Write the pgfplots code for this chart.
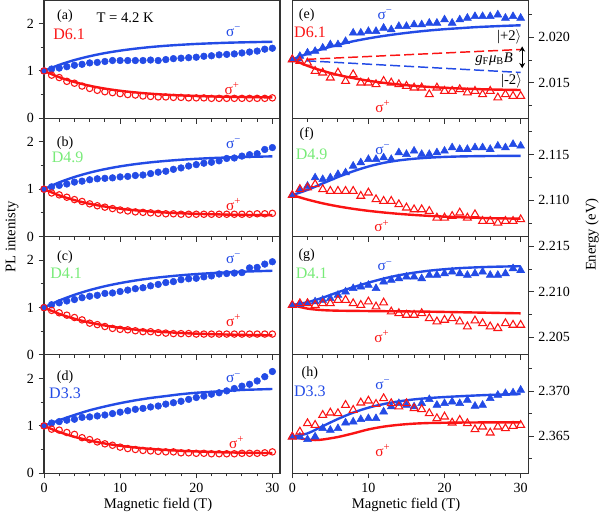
\documentclass[border=0pt]{standalone}
\usepackage{fontspec}
\setmainfont{Liberation Serif}
\usepackage{pgfplots}
\pgfplotsset{compat=1.18}
\usetikzlibrary{arrows.meta}
\definecolor{myblue}{RGB}{35,75,230}
\definecolor{myred}{RGB}{250,20,20}
\definecolor{mygreen}{RGB}{120,235,120}
\newcommand{\sigm}{σ\textsuperscript{−}}
\newcommand{\sigp}{σ\textsuperscript{+}}
\newcommand{\fs}[1]{\fontsize{#1}{#1}\selectfont}
\pgfplotsset{
  base/.style={scale only axis, width=177pt, height=88.65pt, xmin=0, xmax=31,
    xtick={0,10,20,30}, minor x tick num=4, tick align=outside, xtick pos=left,
    major tick length=4pt, minor tick length=2.5pt,
    axis line style={black!80, line width=0.8pt},
    every tick/.append style={black!80, line width=0.7pt},
    tick label style={font=\fs{10.5}},
    /pgf/number format/assume math mode=true,
    clip=false, xticklabels={}, anchor=north west},
  leftp/.style={base, ymin=0, ymax=2.5, ytick={0,1,2}, minor ytick={0.5,1.5}, ytick pos=left},
  rightp/.style={base, ytick pos=right, yticklabel pos=right,
    yticklabel style={/pgf/number format/.cd, fixed, fixed zerofill, precision=3}},
  bdot/.style={only marks, mark=*, mark size=2.5pt, color=myblue},
  rdot/.style={only marks, mark=o, mark size=2.4pt, color=myred, mark options={line width=0.8pt}},
  btri/.style={only marks, mark=triangle*, mark size=3.4pt, color=myblue},
  rtri/.style={only marks, mark=triangle, mark size=3.4pt, color=myred, mark options={line width=0.8pt}},
  bline/.style={myblue, line width=1.8pt, smooth, no marks},
  rline/.style={myred, line width=1.8pt, smooth, no marks},
}
\begin{document}
\begin{tikzpicture}
\useasboundingbox (0,0) rectangle (451.5pt,-386.25pt);
% ---------- (a)
\begin{axis}[leftp, at={(33pt,0pt)}]
\addplot[bdot] coordinates {(0,1.00)(1,1.04)(2,1.06)(3,1.09)(4,1.12)(5,1.14)(6,1.17)(7,1.18)(8,1.20)(9,1.22)(10,1.22)(11,1.22)(12,1.22)(13,1.22)(14,1.23)(15,1.22)(16,1.24)(17,1.26)(18,1.27)(19,1.28)(20,1.29)(21,1.31)(22,1.32)(23,1.34)(24,1.35)(25,1.36)(26,1.38)(27,1.40)(28,1.42)(29,1.46)(30,1.48)};
\addplot[rdot] coordinates {(0,1.00)(1,0.91)(2,0.86)(3,0.78)(4,0.74)(5,0.68)(6,0.63)(7,0.59)(8,0.56)(9,0.54)(10,0.52)(11,0.50)(12,0.49)(13,0.47)(14,0.46)(15,0.45)(16,0.45)(17,0.44)(18,0.44)(19,0.43)(20,0.43)(21,0.43)(22,0.42)(23,0.42)(24,0.42)(25,0.42)(26,0.42)(27,0.42)(28,0.42)(29,0.42)(30,0.43)};
\addplot[bline] coordinates {(0,1)(2,1.128)(4,1.230)(6,1.311)(8,1.377)(10,1.429)(12,1.471)(14,1.505)(16,1.532)(18,1.553)(20,1.571)(22,1.584)(24,1.596)(26,1.604)(28,1.611)(30,1.617)};
\addplot[rline] coordinates {(0,1)(2,0.867)(4,0.765)(6,0.686)(8,0.626)(10,0.580)(12,0.545)(14,0.518)(16,0.497)(18,0.482)(20,0.469)(22,0.460)(24,0.453)(26,0.448)(28,0.444)(30,0.440)};
\node[font=\fs{10.5}] at (axis cs:2.76,2.15) {(a)};
\node[font=\fs{11}] at (axis cs:10.66,2.13) {T = 4.2 K};
\node[font=\fs{12}, text=myred] at (axis cs:3.3,1.77) {D6.1};
\node[font=\fs{11.5}, text=myblue] at (axis cs:24.9,1.83) {\sigm};
\node[font=\fs{11.5}, text=myred] at (axis cs:24.7,0.62) {\sigp};
\end{axis}
% ---------- (b)
\begin{axis}[leftp, at={(33pt,-88.7pt)}]
\addplot[bdot] coordinates {(0,1.00)(1,1.05)(2,1.08)(3,1.11)(4,1.15)(5,1.17)(6,1.20)(7,1.22)(8,1.23)(9,1.24)(10,1.26)(11,1.27)(12,1.29)(13,1.30)(14,1.33)(15,1.36)(16,1.38)(17,1.42)(18,1.45)(19,1.49)(20,1.52)(21,1.55)(22,1.57)(23,1.60)(24,1.65)(25,1.66)(26,1.70)(27,1.73)(28,1.75)(29,1.84)(30,1.88)};
\addplot[rdot] coordinates {(0,1.00)(1,0.92)(2,0.88)(3,0.83)(4,0.78)(5,0.74)(6,0.69)(7,0.65)(8,0.62)(9,0.59)(10,0.56)(11,0.54)(12,0.52)(13,0.51)(14,0.50)(15,0.49)(16,0.48)(17,0.48)(18,0.47)(19,0.47)(20,0.47)(21,0.47)(22,0.47)(23,0.47)(24,0.47)(25,0.47)(26,0.47)(27,0.47)(28,0.48)(29,0.48)(30,0.49)};
\addplot[bline] coordinates {(0,1)(2,1.144)(4,1.258)(6,1.350)(8,1.424)(10,1.483)(12,1.530)(14,1.568)(16,1.598)(18,1.623)(20,1.642)(22,1.658)(24,1.670)(26,1.680)(28,1.688)(30,1.694)};
\addplot[rline] coordinates {(0,1)(2,0.869)(4,0.769)(6,0.691)(8,0.633)(10,0.588)(12,0.553)(14,0.527)(16,0.506)(18,0.491)(20,0.479)(22,0.470)(24,0.463)(26,0.457)(28,0.453)(30,0.450)};
\node[font=\fs{10.5}] at (axis cs:2.76,1.98) {(b)};
\node[font=\fs{12}, text=mygreen] at (axis cs:3.1,1.67) {D4.9};
\node[font=\fs{11.5}, text=myblue] at (axis cs:24.9,1.96) {\sigm};
\node[font=\fs{11.5}, text=myred] at (axis cs:24.9,0.68) {\sigp};
\end{axis}
% ---------- (c)
\begin{axis}[leftp, at={(33pt,-177.5pt)}]
\addplot[bdot] coordinates {(0,1.00)(1,1.06)(2,1.10)(3,1.14)(4,1.17)(5,1.21)(6,1.24)(7,1.26)(8,1.30)(9,1.31)(10,1.34)(11,1.37)(12,1.40)(13,1.42)(14,1.46)(15,1.49)(16,1.53)(17,1.55)(18,1.59)(19,1.61)(20,1.62)(21,1.65)(22,1.67)(23,1.71)(24,1.72)(25,1.73)(26,1.74)(27,1.84)(28,1.85)(29,1.92)(30,1.97)};
\addplot[rdot] coordinates {(0,1.00)(1,0.94)(2,0.89)(3,0.84)(4,0.79)(5,0.74)(6,0.67)(7,0.64)(8,0.60)(9,0.56)(10,0.54)(11,0.53)(12,0.51)(13,0.49)(14,0.49)(15,0.47)(16,0.46)(17,0.45)(18,0.45)(19,0.45)(20,0.44)(21,0.44)(22,0.44)(23,0.44)(24,0.44)(25,0.44)(26,0.44)(27,0.44)(28,0.44)(29,0.44)(30,0.44)};
\addplot[bline] coordinates {(0,1)(2,1.149)(4,1.270)(6,1.370)(8,1.452)(10,1.518)(12,1.573)(14,1.618)(16,1.654)(18,1.684)(20,1.709)(22,1.729)(24,1.746)(26,1.759)(28,1.770)(30,1.779)};
\addplot[rline] coordinates {(0,1)(2,0.867)(4,0.764)(6,0.683)(8,0.621)(10,0.572)(12,0.534)(14,0.504)(16,0.481)(18,0.463)(20,0.449)(22,0.438)(24,0.430)(26,0.423)(28,0.418)(30,0.414)};
\node[font=\fs{10.5}] at (axis cs:2.76,2.07) {(c)};
\node[font=\fs{12}, text=mygreen] at (axis cs:2.9,1.72) {D4.1};
\node[font=\fs{11.5}, text=myblue] at (axis cs:24.9,2.03) {\sigm};
\node[font=\fs{11.5}, text=myred] at (axis cs:24.9,0.72) {\sigp};
\end{axis}
% ---------- (d)
\begin{axis}[leftp, at={(33pt,-266.2pt)}, xticklabels={0,10,20,30}]
\addplot[bdot] coordinates {(0,1.00)(1,1.06)(2,1.09)(3,1.12)(4,1.14)(5,1.18)(6,1.19)(7,1.21)(8,1.23)(9,1.26)(10,1.29)(11,1.32)(12,1.35)(13,1.37)(14,1.40)(15,1.42)(16,1.46)(17,1.49)(18,1.52)(19,1.56)(20,1.60)(21,1.63)(22,1.67)(23,1.70)(24,1.74)(25,1.79)(26,1.84)(27,1.88)(28,1.95)(29,2.04)(30,2.15)};
\addplot[rdot] coordinates {(0,1.00)(1,0.93)(2,0.91)(3,0.86)(4,0.82)(5,0.75)(6,0.71)(7,0.66)(8,0.62)(9,0.59)(10,0.55)(11,0.52)(12,0.50)(13,0.48)(14,0.47)(15,0.46)(16,0.45)(17,0.45)(18,0.43)(19,0.43)(20,0.42)(21,0.42)(22,0.41)(23,0.41)(24,0.41)(25,0.41)(26,0.42)(27,0.42)(28,0.42)(29,0.43)(30,0.45)};
\addplot[bline] coordinates {(0,1)(2,1.12)(4,1.23)(6,1.33)(8,1.41)(10,1.48)(12,1.54)(14,1.59)(16,1.63)(18,1.67)(20,1.70)(22,1.72)(24,1.74)(26,1.76)(28,1.77)(30,1.78)};
\addplot[rline] coordinates {(0,1)(2,0.870)(4,0.768)(6,0.689)(8,0.627)(10,0.579)(12,0.542)(14,0.513)(16,0.490)(18,0.472)(20,0.458)(22,0.448)(24,0.439)(26,0.433)(28,0.428)(30,0.424)};
\node[font=\fs{10.5}] at (axis cs:2.76,2.03) {(d)};
\node[font=\fs{12}, text=myblue] at (axis cs:2.76,1.69) {D3.3};
\node[font=\fs{11.5}, text=myblue] at (axis cs:24.9,2.01) {\sigm};
\node[font=\fs{11.5}, text=myred] at (axis cs:25.3,0.64) {\sigp};
\end{axis}
% ---------- (e)
\begin{axis}[rightp, at={(219.2pt,0pt)}, ymin=2.0111, ymax=2.0241, ytick={2.015,2.020}, minor ytick={2.0125,2.0175,2.0225}]
\addplot[btri] coordinates {(0,2.01756)(1,2.01792)(2,2.01829)(3,2.01847)(4,2.01883)(5,2.0192)(6,2.0192)(7,2.01956)(8,2.02048)(9,2.02048)(10,2.02066)(11,2.02066)(12,2.02102)(13,2.02084)(14,2.02121)(15,2.02121)(16,2.02139)(17,2.02139)(18,2.02157)(19,2.02157)(20,2.02194)(21,2.02157)(22,2.02194)(23,2.02212)(24,2.0223)(25,2.0223)(26,2.0223)(27,2.02248)(28,2.02212)(29,2.0223)(30,2.02212)};
\addplot[rtri] coordinates {(0,2.01756)(1,2.01737)(2,2.01719)(3,2.01628)(4,2.0161)(5,2.01555)(6,2.0161)(7,2.01518)(8,2.01591)(9,2.015)(10,2.015)(11,2.01482)(12,2.01518)(13,2.015)(14,2.01482)(15,2.01464)(16,2.01445)(17,2.01445)(18,2.01372)(19,2.01445)(20,2.01409)(21,2.01409)(22,2.01427)(23,2.01391)(24,2.01409)(25,2.01372)(26,2.01409)(27,2.01336)(28,2.01372)(29,2.01354)(30,2.01354)};
\addplot[bline] coordinates {(0,2.01756)(2,2.01819)(4,2.01872)(6,2.01917)(8,2.01956)(10,2.01988)(12,2.02015)(14,2.02038)(16,2.02058)(18,2.02075)(20,2.02089)(22,2.02100)(24,2.02111)(26,2.02119)(28,2.02126)(30,2.02132)};
\addplot[rline] coordinates {(0,2.01756)(2,2.01686)(4,2.01631)(6,2.01586)(8,2.01551)(10,2.01522)(12,2.01499)(14,2.01481)(16,2.01466)(18,2.01454)(20,2.01445)(22,2.01437)(24,2.01431)(26,2.01426)(28,2.01423)(30,2.01420)};
\addplot[myred, line width=1.1pt, dash pattern=on 7.5pt off 3pt] coordinates {(0,2.0175)(30,2.01866)};
\addplot[myblue, line width=1.1pt, dash pattern=on 7.5pt off 3pt] coordinates {(0,2.0175)(30,2.01613)};
\draw[{Stealth[length=4pt,width=4.5pt]}-{Stealth[length=4pt,width=4.5pt]}, line width=1pt] (axis cs:30.2,2.0190) -- (axis cs:30.2,2.0166);
\node[font=\fs{10.5}] at (axis cs:1.9,2.02248) {(e)};
\node[font=\fs{12}, text=myred] at (axis cs:2.33,2.02051) {D6.1};
\node[font=\fs{11.5}, text=myblue] at (axis cs:12.2,2.02248) {\sigm};
\node[font=\fs{11.5}, text=myred] at (axis cs:11.9,2.01241) {\sigp};
\node[font=\fs{11}] at (axis cs:28.5,2.0201) {|+2$\rangle$};
\node[font=\fs{11}, anchor=east] at (axis cs:29.6,2.01755) {\textit{g}\textsubscript{F}\textit{μ}\textsubscript{B}\textit{B}};
\node[font=\fs{11}] at (axis cs:28.8,2.01517) {|-2$\rangle$};
\end{axis}
% ---------- (f)
\begin{axis}[rightp, at={(219.2pt,-88.7pt)}, ymin=2.10606, ymax=2.11897, ytick={2.110,2.115}, minor ytick={2.1075,2.1125,2.1175}]
\addplot[btri] coordinates {(0,2.11058)(1,2.11121)(2,2.11157)(3,2.11248)(4,2.1123)(5,2.11248)(6,2.11285)(7,2.11303)(8,2.11376)(9,2.11413)(10,2.11449)(11,2.11449)(12,2.11467)(13,2.11449)(14,2.11522)(15,2.11504)(16,2.1154)(17,2.11504)(18,2.11504)(19,2.11522)(20,2.1154)(21,2.11577)(22,2.11559)(23,2.11559)(24,2.11577)(25,2.11577)(26,2.11559)(27,2.11595)(28,2.11577)(29,2.11613)(30,2.11595)};
\addplot[rtri] coordinates {(0,2.11058)(1,2.11121)(2,2.11139)(3,2.11175)(4,2.11121)(5,2.11102)(6,2.11102)(7,2.11102)(8,2.11102)(9,2.11048)(10,2.11084)(11,2.11011)(12,2.10993)(13,2.10993)(14,2.10956)(15,2.1092)(16,2.10901)(17,2.10901)(18,2.10883)(19,2.1081)(20,2.1081)(21,2.10828)(22,2.10865)(23,2.1081)(24,2.10847)(25,2.10774)(26,2.10774)(27,2.10755)(28,2.10774)(29,2.10774)(30,2.10792)};
\addplot[bline] coordinates {(0,2.11058)(2,2.11115)(4,2.11185)(6,2.11255)(8,2.11318)(10,2.11370)(12,2.11410)(14,2.11437)(16,2.11455)(18,2.11467)(20,2.11475)(22,2.11480)(24,2.11483)(26,2.11485)(28,2.11486)(30,2.11487)};
\addplot[rline] coordinates {(0,2.11058)(2,2.11009)(4,2.10968)(6,2.10935)(8,2.10908)(10,2.10886)(12,2.10868)(14,2.10853)(16,2.10841)(18,2.10831)(20,2.10823)(22,2.10816)(24,2.10811)(26,2.10806)(28,2.10803)(30,2.10800)};
\node[font=\fs{10.5}] at (axis cs:1.9,2.11722) {(f)};
\node[font=\fs{12}, text=mygreen] at (axis cs:2.55,2.11503) {D4.9};
\node[font=\fs{11.5}, text=myblue] at (axis cs:11.9,2.1155) {\sigm};
\node[font=\fs{11.5}, text=myred] at (axis cs:11.76,2.10719) {\sigp};
\end{axis}
% ---------- (g)
\begin{axis}[rightp, at={(219.2pt,-177.5pt)}, ymin=2.20306, ymax=2.21606, ytick={2.205,2.210,2.215}, minor ytick={2.2075,2.2125}]
\addplot[btri] coordinates {(0,2.20854)(1,2.20861)(2,2.20872)(3,2.20891)(4,2.20909)(5,2.20927)(6,2.20964)(7,2.21)(8,2.21037)(9,2.21055)(10,2.21073)(11,2.21037)(12,2.2111)(13,2.21128)(14,2.21146)(15,2.21164)(16,2.21164)(17,2.21146)(18,2.21183)(19,2.21183)(20,2.21201)(21,2.21219)(22,2.21201)(23,2.21183)(24,2.21201)(25,2.21219)(26,2.21183)(27,2.21183)(28,2.21201)(29,2.21256)(30,2.21237)};
\addplot[rtri] coordinates {(0,2.20854)(1,2.20872)(2,2.20872)(3,2.20854)(4,2.20872)(5,2.20872)(6,2.20909)(7,2.20909)(8,2.20872)(9,2.20854)(10,2.20891)(11,2.20836)(12,2.2088)(13,2.20781)(14,2.20763)(15,2.20745)(16,2.20745)(17,2.20763)(18,2.20708)(19,2.20672)(20,2.2069)(21,2.20708)(22,2.20672)(23,2.20617)(24,2.20682)(25,2.20653)(26,2.20617)(27,2.20599)(28,2.20653)(29,2.20635)(30,2.20635)};
\addplot[bline] coordinates {(0,2.20854)(2,2.20885)(4,2.20935)(6,2.20995)(8,2.21050)(10,2.21100)(12,2.21145)(14,2.21182)(16,2.21210)(18,2.21232)(20,2.21248)(22,2.21260)(24,2.21268)(26,2.21274)(28,2.21278)(30,2.21281)};
\addplot[rline] coordinates {(0,2.20854)(2,2.20815)(4,2.20798)(6,2.20792)(8,2.20790)(10,2.20788)(14,2.20785)(18,2.20781)(22,2.20775)(26,2.20769)(30,2.20763)};
\node[font=\fs{10.5}] at (axis cs:1.9,2.21402) {(g)};
\node[font=\fs{12}, text=mygreen] at (axis cs:2.55,2.21202) {D4.1};
\node[font=\fs{11.5}, text=myblue] at (axis cs:12.2,2.21282) {\sigm};
\node[font=\fs{11.5}, text=myred] at (axis cs:11.76,2.20507) {\sigp};
\end{axis}
% ---------- (h)
\begin{axis}[rightp, at={(219.2pt,-266.2pt)}, ymin=2.36089, ymax=2.374, ytick={2.365,2.370}, minor ytick={2.3625,2.3675,2.3725}, xticklabels={0,10,20,30}]
\addplot[btri] coordinates {(0,2.36493)(1,2.36493)(2,2.36463)(3,2.36493)(4,2.36585)(5,2.36567)(6,2.36585)(7,2.36648)(8,2.36659)(9,2.36685)(10,2.36696)(11,2.36696)(12,2.3677)(13,2.36826)(14,2.36863)(15,2.36844)(16,2.36826)(17,2.36863)(18,2.36907)(19,2.36844)(20,2.36863)(21,2.36881)(22,2.36863)(23,2.369)(24,2.36833)(25,2.36844)(26,2.36918)(27,2.36955)(28,2.36974)(29,2.36981)(30,2.37011)};
\addplot[rtri] coordinates {(0,2.36493)(1,2.36548)(2,2.36641)(3,2.36622)(4,2.36733)(5,2.36759)(6,2.36752)(7,2.36844)(8,2.36789)(9,2.3687)(10,2.36892)(11,2.36855)(12,2.36918)(13,2.36863)(14,2.36826)(15,2.36863)(16,2.36807)(17,2.36796)(18,2.36752)(19,2.36696)(20,2.36715)(21,2.36648)(22,2.36678)(23,2.36641)(24,2.36574)(25,2.36604)(26,2.36537)(27,2.36604)(28,2.36585)(29,2.36611)(30,2.36622)};
\addplot[bline] coordinates {(0,2.36493)(2,2.36530)(4,2.36610)(6,2.36690)(8,2.36760)(10,2.36815)(12,2.36855)(14,2.36885)(16,2.36907)(18,2.36922)(20,2.36933)(22,2.36942)(24,2.36950)(26,2.36957)(28,2.36962)(30,2.36967)};
\addplot[rline] coordinates {(0,2.36493)(1,2.36475)(2,2.36462)(3,2.36456)(4,2.36462)(6,2.36490)(8,2.36530)(10,2.36574)(12,2.36605)(14,2.36625)(16,2.36638)(18,2.36645)(20,2.36648)(22,2.36650)(26,2.36652)(30,2.36653)};
\node[font=\fs{10.5}] at (axis cs:2.3,2.37197) {(h)};
\node[font=\fs{12}, text=myblue] at (axis cs:2.3,2.36992) {D3.3};
\node[font=\fs{11.5}, text=myblue] at (axis cs:11.9,2.37067) {\sigm};
\node[font=\fs{11.5}, text=myred] at (axis cs:11.9,2.36344) {\sigp};
\end{axis}
% ---------- axis labels
\node[font=\fs{11}] at (118.5pt,-378.75pt) {Magnetic field (T)};
\node[font=\fs{11}] at (304.5pt,-378.75pt) {Magnetic field (T)};
\node[font=\fs{11}, rotate=90] at (9pt,-177.7pt) {PL intenisty};
\node[font=\fs{11}, rotate=90] at (444pt,-176pt) {Energy (eV)};
\end{tikzpicture}
\end{document}
